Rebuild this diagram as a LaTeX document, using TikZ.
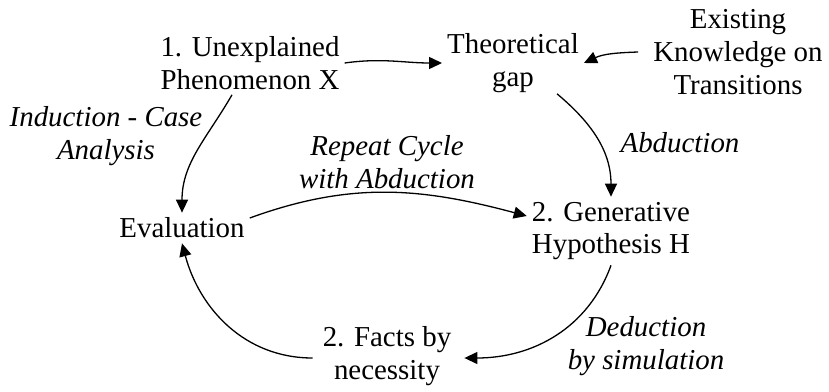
\documentclass[tikz,border=0pt]{standalone}
\usepackage{fontspec}
\setmainfont{Liberation Serif}
\usetikzlibrary{arrows.meta}
\begin{document}
\begin{tikzpicture}[x=1bp,y=1bp,
  every node/.style={font=\fontsize{29}{33}\selectfont, align=center, inner sep=5bp},
  lbl/.style={font=\fontsize{29}{33}\selectfont\itshape},
  conn/.style={line width=1.3bp, -{Triangle[length=13bp,width=12bp]}}]
\useasboundingbox (0,0) rectangle (829,391);
\node (u) at (250,328) {1. Unexplained\\Phenomenon X};
\node (t) at (513,328) {Theoretical\\gap};
\node (k) at (738,339) {Existing\\Knowledge on\\Transitions};
\node (e) at (182,163) {Evaluation};
\node (g) at (611,160) {2. Generative\\Hypothesis H};
\node (f) at (387,35) {2. Facts by\\necessity};
\node[lbl] (l1) at (106,255) {Induction - Case\\Analysis};
\node[lbl] (l2) at (387,229) {Repeat Cycle\\with Abduction};
\node[lbl] (l3) at (680,248) {Abduction};
\node[lbl] (l4) at (646,45) {Deduction\\by simulation};
\draw[conn] (u.east) to[out=8,in=180] (t.west);
\draw[conn] ([xshift=-10bp]k.west) to[out=182,in=25] (t.east);
\draw[conn] ([xshift=44bp,yshift=4bp]t.south) to[out=-40,in=90] (g.north);
\draw[conn] (g.south) to[out=-110,in=0] ([xshift=8bp,yshift=-2bp]f.east);
\draw[conn] ([xshift=-5bp,yshift=-2bp]f.west) to[out=180,in=-75] (e.south);
\draw[conn] ([yshift=10bp]e.east) to[out=20,in=165] ([yshift=15bp]g.west);
\draw[conn] ([xshift=-18bp]u.south) to[out=-120,in=90] (e.north);
\end{tikzpicture}
\end{document}
